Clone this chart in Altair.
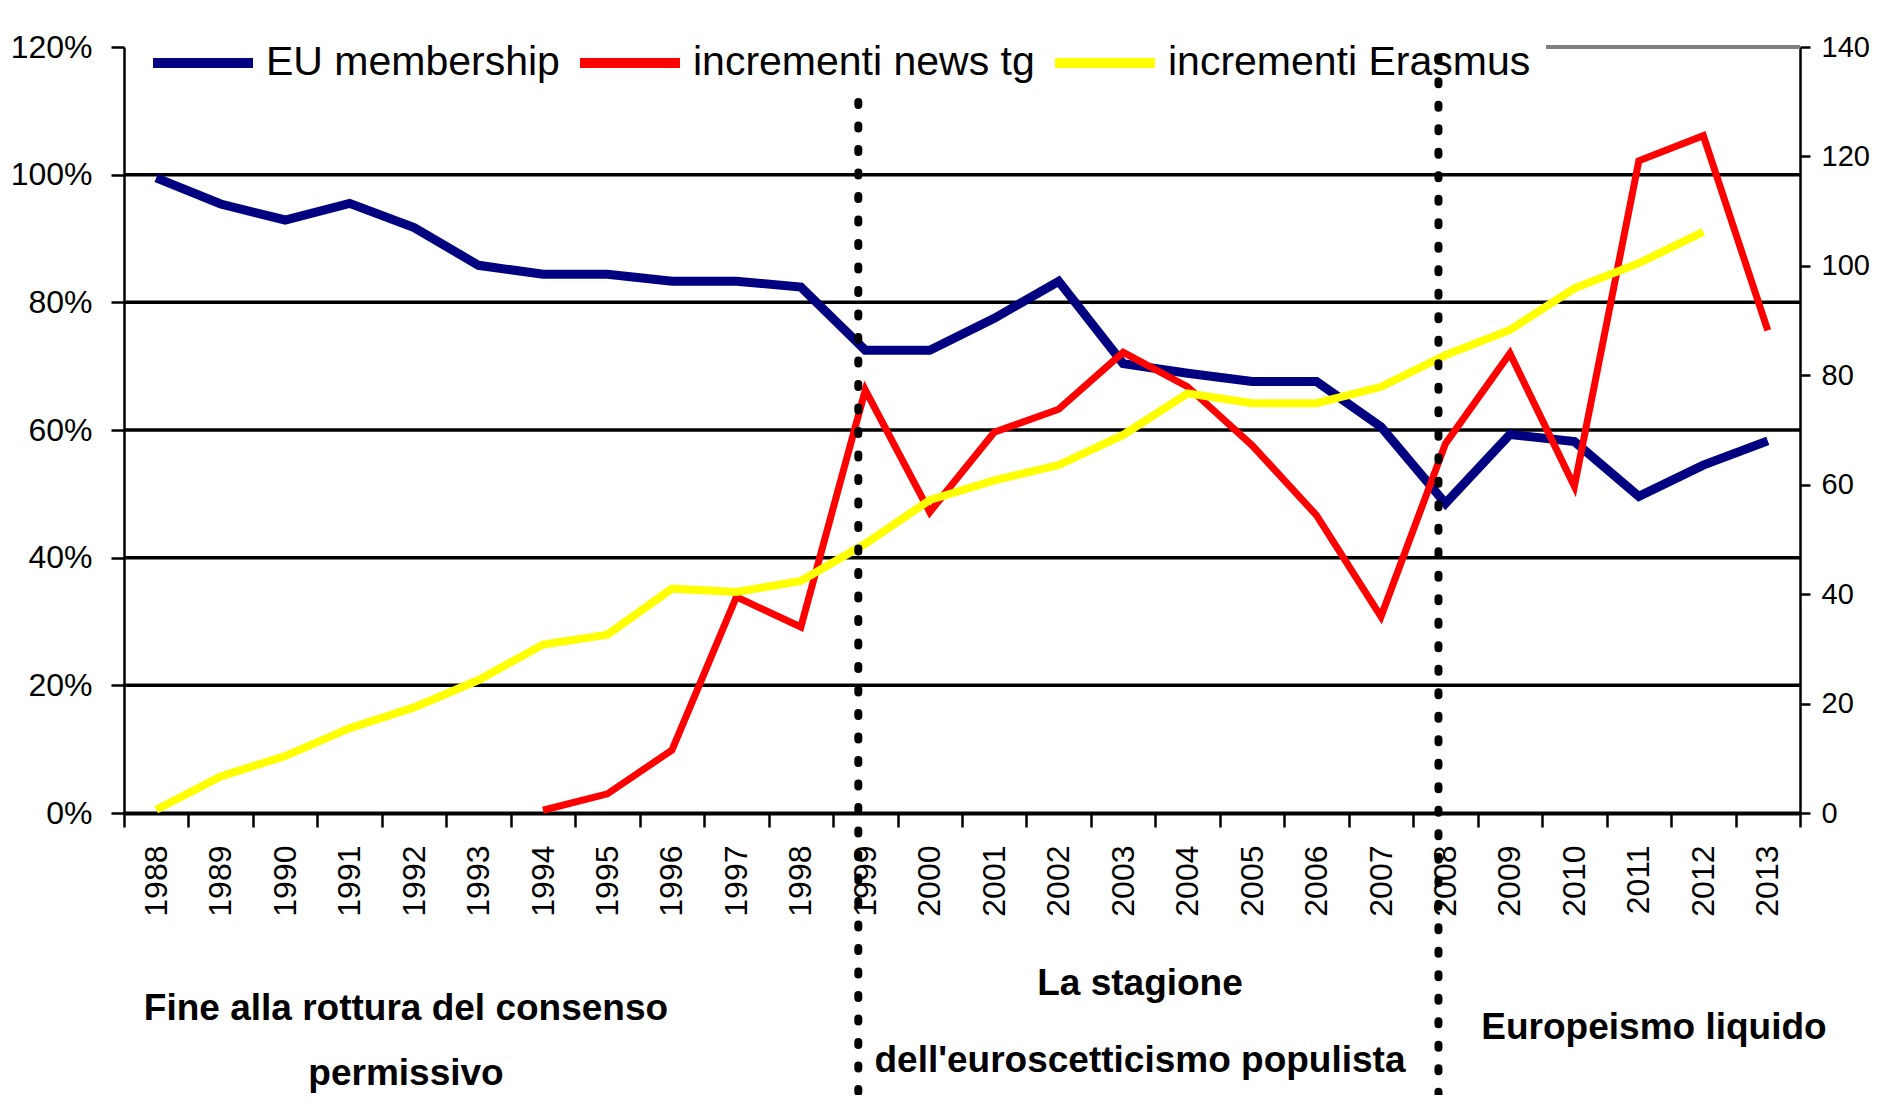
import altair as alt
import pandas as pd

# ---------------- data ----------------
years = [str(y) for y in range(1988, 2014)]

# EU membership (% , left axis)
eu_membership = [99.5, 95.4, 92.9, 95.5, 91.7, 85.8, 84.4, 84.4, 83.3, 83.3, 82.4,
                 72.5, 72.5, 77.5, 83.3, 70.4, 68.9, 67.6, 67.6, 60.5, 48.5,
                 59.3, 58.2, 49.6, 54.5, 58.3]

# incrementi news tg (right axis)
news_tg = [None, None, None, None, None, None, 0.5, 3.5, 11.5, 39.5, 34.0,
           77.3, 55.0, 69.6, 73.8, 84.2, 77.9, 67.2, 54.4, 35.9, 67.5,
           84.0, 59.7, 119.2, 123.8, 88.2]

# incrementi Erasmus (right axis)
erasmus = [0.6, 6.7, 10.4, 15.5, 19.3, 24.3, 30.8, 32.6, 41.0, 40.4, 42.4,
           49.2, 57.2, 60.8, 63.6, 69.1, 76.7, 74.9, 74.9, 77.9, 83.7,
           88.3, 95.9, 100.5, 106.2, None]

series_names = ["EU membership", "incrementi news tg", "incrementi Erasmus"]
series_colors = ["#000080", "#FF0000", "#FFFF00"]

left_ticks = [0, 0.2, 0.4, 0.6, 0.8, 1.0, 1.2]
left_grid = [0.2, 0.4, 0.6, 0.8, 1.0]
right_ticks = [0, 20, 40, 60, 80, 100, 120, 140]

period_years = ["1999", "2008"]
period_top = [1.114, 1.183]
period_bottom = [-0.46, -0.46]

annotation_texts = ["Fine alla rottura del consenso", "permissivo",
                    "La stagione", "dell'euroscetticismo populista",
                    "Europeismo liquido"]
annotation_x = [282, 282, 1016, 1016, 1530]
annotation_y = [973, 1038, 948, 1025, 992]

# ---------------- tables ----------------
eu_df = pd.DataFrame({"year": years,
                      "value": [v / 100 for v in eu_membership],
                      "series": series_names[0]})
news_df = pd.DataFrame([{"year": y, "value": v, "series": series_names[1]}
                        for y, v in zip(years, news_tg) if v is not None])
eras_df = pd.DataFrame([{"year": y, "value": v, "series": series_names[2]}
                        for y, v in zip(years, erasmus) if v is not None])
grid_df = pd.DataFrame({"value": left_grid})
period_df = pd.DataFrame({"year": period_years, "value": period_top,
                          "bottom": period_bottom})

# ---------------- layout / style ----------------
W, H = 1676, 766
FONT = "Liberation Sans, Arial, sans-serif"

x_scale = alt.Scale(type="band", domain=years, paddingInner=0, paddingOuter=0)
x_axis = alt.Axis(title=None, labelAngle=270, tickBand="extent", labelFont=FONT,
                  labelFontSize=32, labelColor="black", tickColor="black",
                  tickWidth=2.5, tickSize=14, labelPadding=18,
                  domainColor="black", domainWidth=4, grid=False)
X = alt.X("year:O", scale=x_scale, axis=x_axis)

left_scale = alt.Scale(domain=[0, 1.2], nice=False, zero=False)
left_axis = alt.Axis(title=None, values=left_ticks, format=".0%", labelFont=FONT,
                     labelFontSize=32, labelColor="black", tickColor="black",
                     tickWidth=2.5, tickSize=13, labelPadding=19,
                     domainColor="black", domainWidth=2.5, grid=False)
Y_left = alt.Y("value:Q", scale=left_scale, axis=left_axis)

right_scale = alt.Scale(domain=[0, 140], nice=False, zero=False)
right_axis = alt.Axis(title=None, orient="right", values=right_ticks, format="d",
                      labelFont=FONT, labelFontSize=29, labelColor="black",
                      tickColor="black", tickWidth=2.5, tickSize=10,
                      labelPadding=11, domainColor="black", domainWidth=2.5,
                      grid=False)
Y_right = alt.Y("value:Q", scale=right_scale, axis=right_axis)

legend = alt.Legend(orient="none", legendX=24, legendY=-39, direction="horizontal",
                    title=None, symbolType="stroke", symbolSize=10000,
                    symbolStrokeWidth=10, labelFont=FONT, labelFontSize=41,
                    labelColor="black", labelOffset=8, columnPadding=0,
                    padding=0, labelLimit=800)
C = alt.Color("series:N", scale=alt.Scale(domain=series_names, range=series_colors),
              legend=legend)

# ---------------- layers ----------------
grid = alt.Chart(grid_df).mark_rule(color="black", strokeWidth=3.5).encode(y=Y_left)
navy = alt.Chart(eu_df).mark_line(strokeWidth=9, strokeJoin="miter").encode(
    x=X, y=Y_left, color=C)
left_layer = alt.layer(grid, navy)

red = alt.Chart(news_df).mark_line(strokeWidth=7, strokeJoin="miter").encode(
    x=X, y=Y_right, color=C)
yellow = alt.Chart(eras_df).mark_line(strokeWidth=8, strokeJoin="miter").encode(
    x=X, y=Y_right, color=C)
right_layer = alt.layer(red, yellow)

top_border = alt.Chart(pd.DataFrame({"v": [0]})).mark_rule(
    color="#808080", strokeWidth=4).encode(
    x=alt.value(1422), x2=alt.value(W), y=alt.value(0))

periods = alt.Chart(period_df).mark_rule(
    color="black", strokeWidth=8, strokeDash=[3, 20.5], strokeCap="round",
    xOffset=-7).encode(
    x=X,
    y=alt.Y("value:Q", scale=left_scale, axis=None),
    y2=alt.Y2("bottom"))

texts = []
for t, px, py in zip(annotation_texts, annotation_x, annotation_y):
    texts.append(
        alt.Chart(pd.DataFrame({"t": [t]})).mark_text(
            font=FONT, fontSize=37, fontWeight="bold", color="black",
            align="center", baseline="alphabetic").encode(
            text="t:N", x=alt.value(px), y=alt.value(py)))

chart = alt.layer(left_layer, right_layer, periods, top_border, *texts).resolve_scale(
    y="independent"
).properties(
    width=W, height=H,
    autosize=alt.AutoSizeParams(type="none"),
    padding={"left": 116, "top": 39, "right": 73, "bottom": 282},
    background="white",
).configure_view(stroke=None)

chart.save("out.html", embed_options={"renderer": "svg", "actions": False})
